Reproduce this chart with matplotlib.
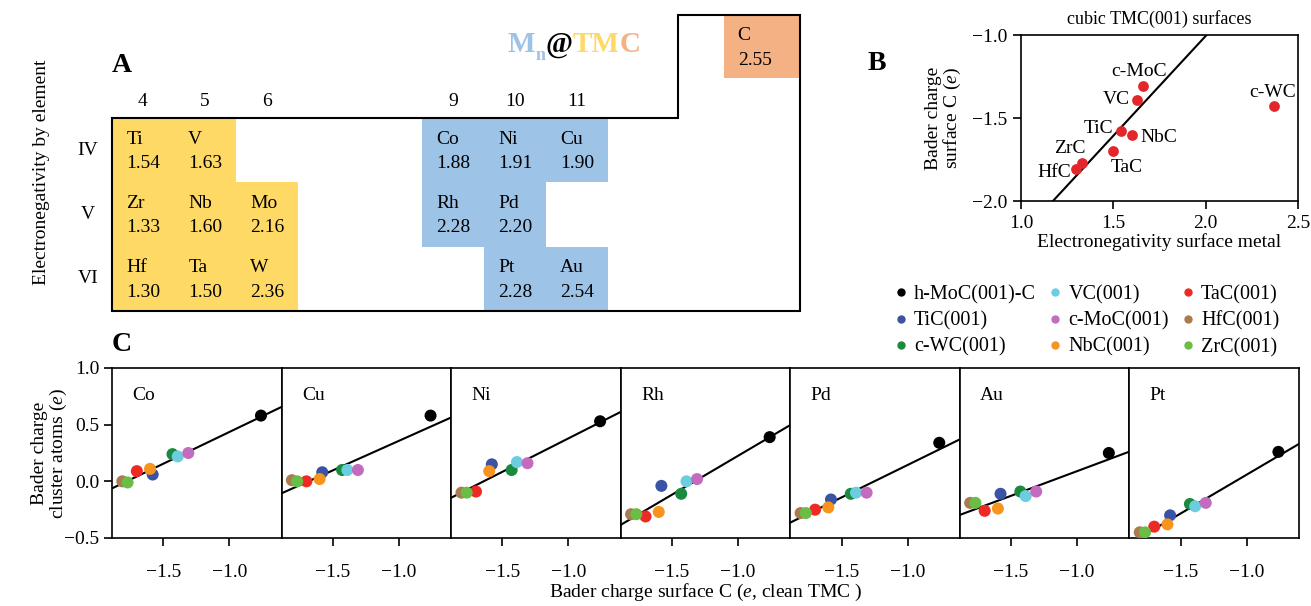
import numpy as np
import matplotlib.pyplot as plt
from matplotlib.patches import Rectangle, Polygon
from matplotlib.lines import Line2D

plt.rcParams['font.family'] = ['Liberation Serif', 'DejaVu Serif']
plt.rcParams['mathtext.fontset'] = 'custom'
plt.rcParams['mathtext.rm'] = 'Liberation Serif'
plt.rcParams['mathtext.it'] = 'Liberation Serif:italic'
plt.rcParams['font.size'] = 14
plt.rcParams['axes.linewidth'] = 1.2

# ---- panel A: electronegativity table ----
tmc_elements = ['Ti', 'V', 'Zr', 'Nb', 'Mo', 'Hf', 'Ta', 'W']
tmc_en = [1.54, 1.63, 1.33, 1.60, 2.16, 1.30, 1.50, 2.36]
tmc_group = [4, 5, 4, 5, 6, 4, 5, 6]
tmc_period = [4, 4, 5, 5, 5, 6, 6, 6]
metal_elements = ['Co', 'Ni', 'Cu', 'Rh', 'Pd', 'Pt', 'Au']
metal_en = [1.88, 1.91, 1.90, 2.28, 2.20, 2.28, 2.54]
metal_group = [9, 10, 11, 9, 10, 10, 11]
metal_period = [4, 4, 4, 5, 5, 6, 6]
group_labels = [4, 5, 6, 9, 10, 11]
periods = [4, 5, 6]
period_labels = ['IV', 'V', 'VI']
carbon_symbol = 'C'
carbon_en = 2.55

# ---- panel B: cubic TMC(001) surfaces ----
b_names = ['c-MoC', 'VC', 'TiC', 'NbC', 'TaC', 'ZrC', 'HfC', 'c-WC']
b_en = [1.66, 1.63, 1.54, 1.60, 1.50, 1.33, 1.30, 2.37]
b_charge = [-1.31, -1.39, -1.58, -1.60, -1.70, -1.77, -1.81, -1.43]
b_fit = (1.202, -3.41)  # slope, intercept

# ---- panel C: cluster charge vs surface C charge ----
tmc_names = ['h-MoC(001)-C', 'TiC(001)', 'c-WC(001)', 'VC(001)', 'c-MoC(001)',
             'NbC(001)', 'TaC(001)', 'HfC(001)', 'ZrC(001)']
tmc_colors = ['#000000', '#3a53a4', '#1a8a3e', '#6dcde0', '#c36bbe',
              '#f7941d', '#ee2a24', '#a97c50', '#6abd45']
surface_c = [-0.76, -1.58, -1.43, -1.39, -1.31, -1.60, -1.70, -1.81, -1.77]
metals = ['Co', 'Cu', 'Ni', 'Rh', 'Pd', 'Au', 'Pt']
cluster_charge = {
    'Co': [0.58, 0.06, 0.24, 0.22, 0.25, 0.11, 0.09, 0.00, -0.01],
    'Cu': [0.58, 0.08, 0.10, 0.10, 0.10, 0.02, 0.00, 0.01, 0.00],
    'Ni': [0.53, 0.15, 0.10, 0.17, 0.16, 0.09, -0.09, -0.10, -0.10],
    'Rh': [0.39, -0.04, -0.11, 0.00, 0.02, -0.27, -0.31, -0.29, -0.29],
    'Pd': [0.34, -0.16, -0.11, -0.10, -0.10, -0.23, -0.25, -0.28, -0.28],
    'Au': [0.25, -0.11, -0.09, -0.13, -0.09, -0.24, -0.26, -0.19, -0.19],
    'Pt': [0.26, -0.30, -0.20, -0.22, -0.19, -0.38, -0.40, -0.45, -0.45],
}
fit_slope = [0.56, 0.521, 0.590, 0.686, 0.572, 0.435, 0.685]
fit_intercept = [0.995, 0.878, 0.969, 0.911, 0.716, 0.525, 0.744]

yellow = '#ffd966'
blue = '#9dc3e6'
orange = '#f4b183'

W, H = 1311, 606
fig = plt.figure(figsize=(W / 100, H / 100), dpi=100)


def fig_rect(x0, y0, x1, y1):
    # pixel box -> figure fraction
    return [x0 / W, 1 - y1 / H, (x1 - x0) / W, (y1 - y0) / H]


# ================= A =================
axA = fig.add_axes(fig_rect(112, 15, 800, 311))
x_right = 3.5 + 688 / 62
x_step = 3.5 + 566 / 62
y_top = 3.5 - 103 / 64.5
y_bot = 6.5
axA.set_xlim(3.5, x_right)
axA.set_ylim(y_bot, y_top)
axA.axis('off')

for el, en, g, p in zip(tmc_elements, tmc_en, tmc_group, tmc_period):
    axA.add_patch(Rectangle((g - 0.5, p - 0.5), 1, 1, color=yellow, lw=0))
    axA.text(g - 0.27, p - 0.17, el, ha='left', va='center')
    axA.text(g - 0.27, p + 0.21, f'{en:.2f}', ha='left', va='center')
for el, en, g, p in zip(metal_elements, metal_en, metal_group, metal_period):
    axA.add_patch(Rectangle((g - 0.5, p - 0.5), 1, 1, color=blue, lw=0))
    axA.text(g - 0.27, p - 0.17, el, ha='left', va='center')
    axA.text(g - 0.27, p + 0.21, f'{en:.2f}', ha='left', va='center')

c_w, c_h = 76 / 62, 63 / 64.5
axA.add_patch(Rectangle((x_right - c_w, y_top), c_w, c_h, color=orange, lw=0))
axA.text(x_right - c_w + 0.22, y_top + 0.32, carbon_symbol, ha='left', va='center')
axA.text(x_right - c_w + 0.22, y_top + 0.70, f'{carbon_en:.2f}', ha='left', va='center')

outline = [(3.5, 3.5), (x_step, 3.5), (x_step, y_top), (x_right, y_top),
           (x_right, y_bot), (3.5, y_bot)]
axA.add_patch(Polygon(outline, closed=True, fill=False, ec='black', lw=1.5,
                      clip_on=False, joinstyle='miter'))

for g in group_labels:
    axA.text(g, 3.25, str(g), ha='center', va='center')
for p, lab in zip(periods, period_labels):
    axA.text(3.11, p, lab, ha='center', va='center')

fig.text(42 / W, 1 - 172 / H, 'Electronegativity by element', rotation=90,
         ha='center', va='center')
fig.text(112 / W, 1 - 66 / H, 'A', fontsize=20, fontweight='bold',
         ha='left', va='center')

# Mn@TMC title
t1 = fig.text(508 / W, 1 - 52 / H, 'M', color=blue, fontsize=21, fontweight='bold')
t2 = plt.annotate('n', xy=(1, 0), xycoords=t1, xytext=(0, -4),
                  textcoords='offset points', color=blue, fontsize=13,
                  fontweight='bold', va='bottom')
t3 = plt.annotate('@', xy=(1, 0), xycoords=(t2, t1), color='black', fontsize=21,
                  fontweight='bold', va='bottom')
t4 = plt.annotate('TM', xy=(1, 0), xycoords=t3, color=yellow, fontsize=21,
                  fontweight='bold', va='bottom')
t5 = plt.annotate('C', xy=(1, 0), xycoords=t4, color=orange, fontsize=21,
                  fontweight='bold', va='bottom')

# ================= B =================
axB = fig.add_axes(fig_rect(1021, 35, 1298, 201))
axB.scatter(b_en, b_charge, s=60, color='#e3262a', zorder=3, lw=0)
axB.axline((0, b_fit[1]), slope=b_fit[0], color='black', lw=1.5)
axB.set_xlim(1.0, 2.5)
axB.set_ylim(-2.0, -1.0)
axB.set_xticks([1.0, 1.5, 2.0, 2.5])
axB.set_yticks([-2.0, -1.5, -1.0])
axB.tick_params(direction='out', length=6, width=1.2, pad=4)
axB.set_title('cubic TMC(001) surfaces', fontsize=13, pad=8)
axB.set_xlabel('Electronegativity surface metal', labelpad=1)
axB.set_ylabel('Bader charge\nsurface C ($e$)', labelpad=6, linespacing=1.0)

label_style = {
    'c-MoC': ((-3, 11), 'center', 'center'),
    'VC': ((-5, 0), 'right', 'center'),
    'TiC': ((-5, 2), 'right', 'center'),
    'NbC': ((6, -2), 'left', 'center'),
    'TaC': ((10, -12), 'center', 'center'),
    'ZrC': ((-9, 10), 'center', 'center'),
    'HfC': ((-4, -2), 'right', 'center'),
    'c-WC': ((-1, 10), 'center', 'center'),
}
for name, xv, yv in zip(b_names, b_en, b_charge):
    off, ha, va = label_style[name]
    axB.annotate(name, (xv, yv), xytext=off, textcoords='offset points',
                 ha=ha, va=va)
fig.text(868 / W, 1 - 64 / H, 'B', fontsize=20, fontweight='bold',
         ha='left', va='center')

# ================= C =================
c_left, c_right, c_top, c_bot = 112, 1299, 368, 538
cw = (c_right - c_left) / len(metals)
for i, m in enumerate(metals):
    ax = fig.add_axes(fig_rect(c_left + i * cw, c_top, c_left + (i + 1) * cw, c_bot))
    ax.axline((0, fit_intercept[i]), slope=fit_slope[i], color='black', lw=1.5, zorder=1)
    ax.scatter(surface_c, cluster_charge[m], c=tmc_colors, s=75, lw=0, zorder=3)
    ax.set_xlim(-1.888, -0.604)
    ax.set_ylim(-0.5, 1.0)
    ax.set_xticks([-1.5, -1.0])
    ax.tick_params(axis='x', direction='out', length=6, width=1.2, pad=13)
    if i == 0:
        ax.set_yticks([-0.5, 0.0, 0.5, 1.0])
        ax.tick_params(axis='y', direction='out', length=6, width=1.2, pad=3)
    else:
        ax.set_yticks([])
    ax.text(0.12, 0.84, m, transform=ax.transAxes, ha='left', va='center')

fig.text(50 / W, 1 - 453 / H, 'Bader charge\ncluster atoms ($e$)', rotation=90,
         ha='center', va='center', linespacing=1.0)
fig.text(706 / W, 1 - 592 / H, 'Bader charge surface C ($e$, clean TMC )',
         ha='center', va='center')
fig.text(112 / W, 1 - 345 / H, 'C', fontsize=20, fontweight='bold',
         ha='left', va='center')

handles = [Line2D([], [], marker='o', ls='', color=c, markersize=5) for c in tmc_colors]
fig.legend(handles, tmc_names, loc='upper left', bbox_to_anchor=(891 / W, 1 - 285 / H),
           ncol=3, frameon=False, handletextpad=0.15, columnspacing=0.45,
           labelspacing=0.35, handlelength=1.0, borderpad=0, borderaxespad=0,
           fontsize=14.5)

fig.savefig('out.png', dpi=100)
